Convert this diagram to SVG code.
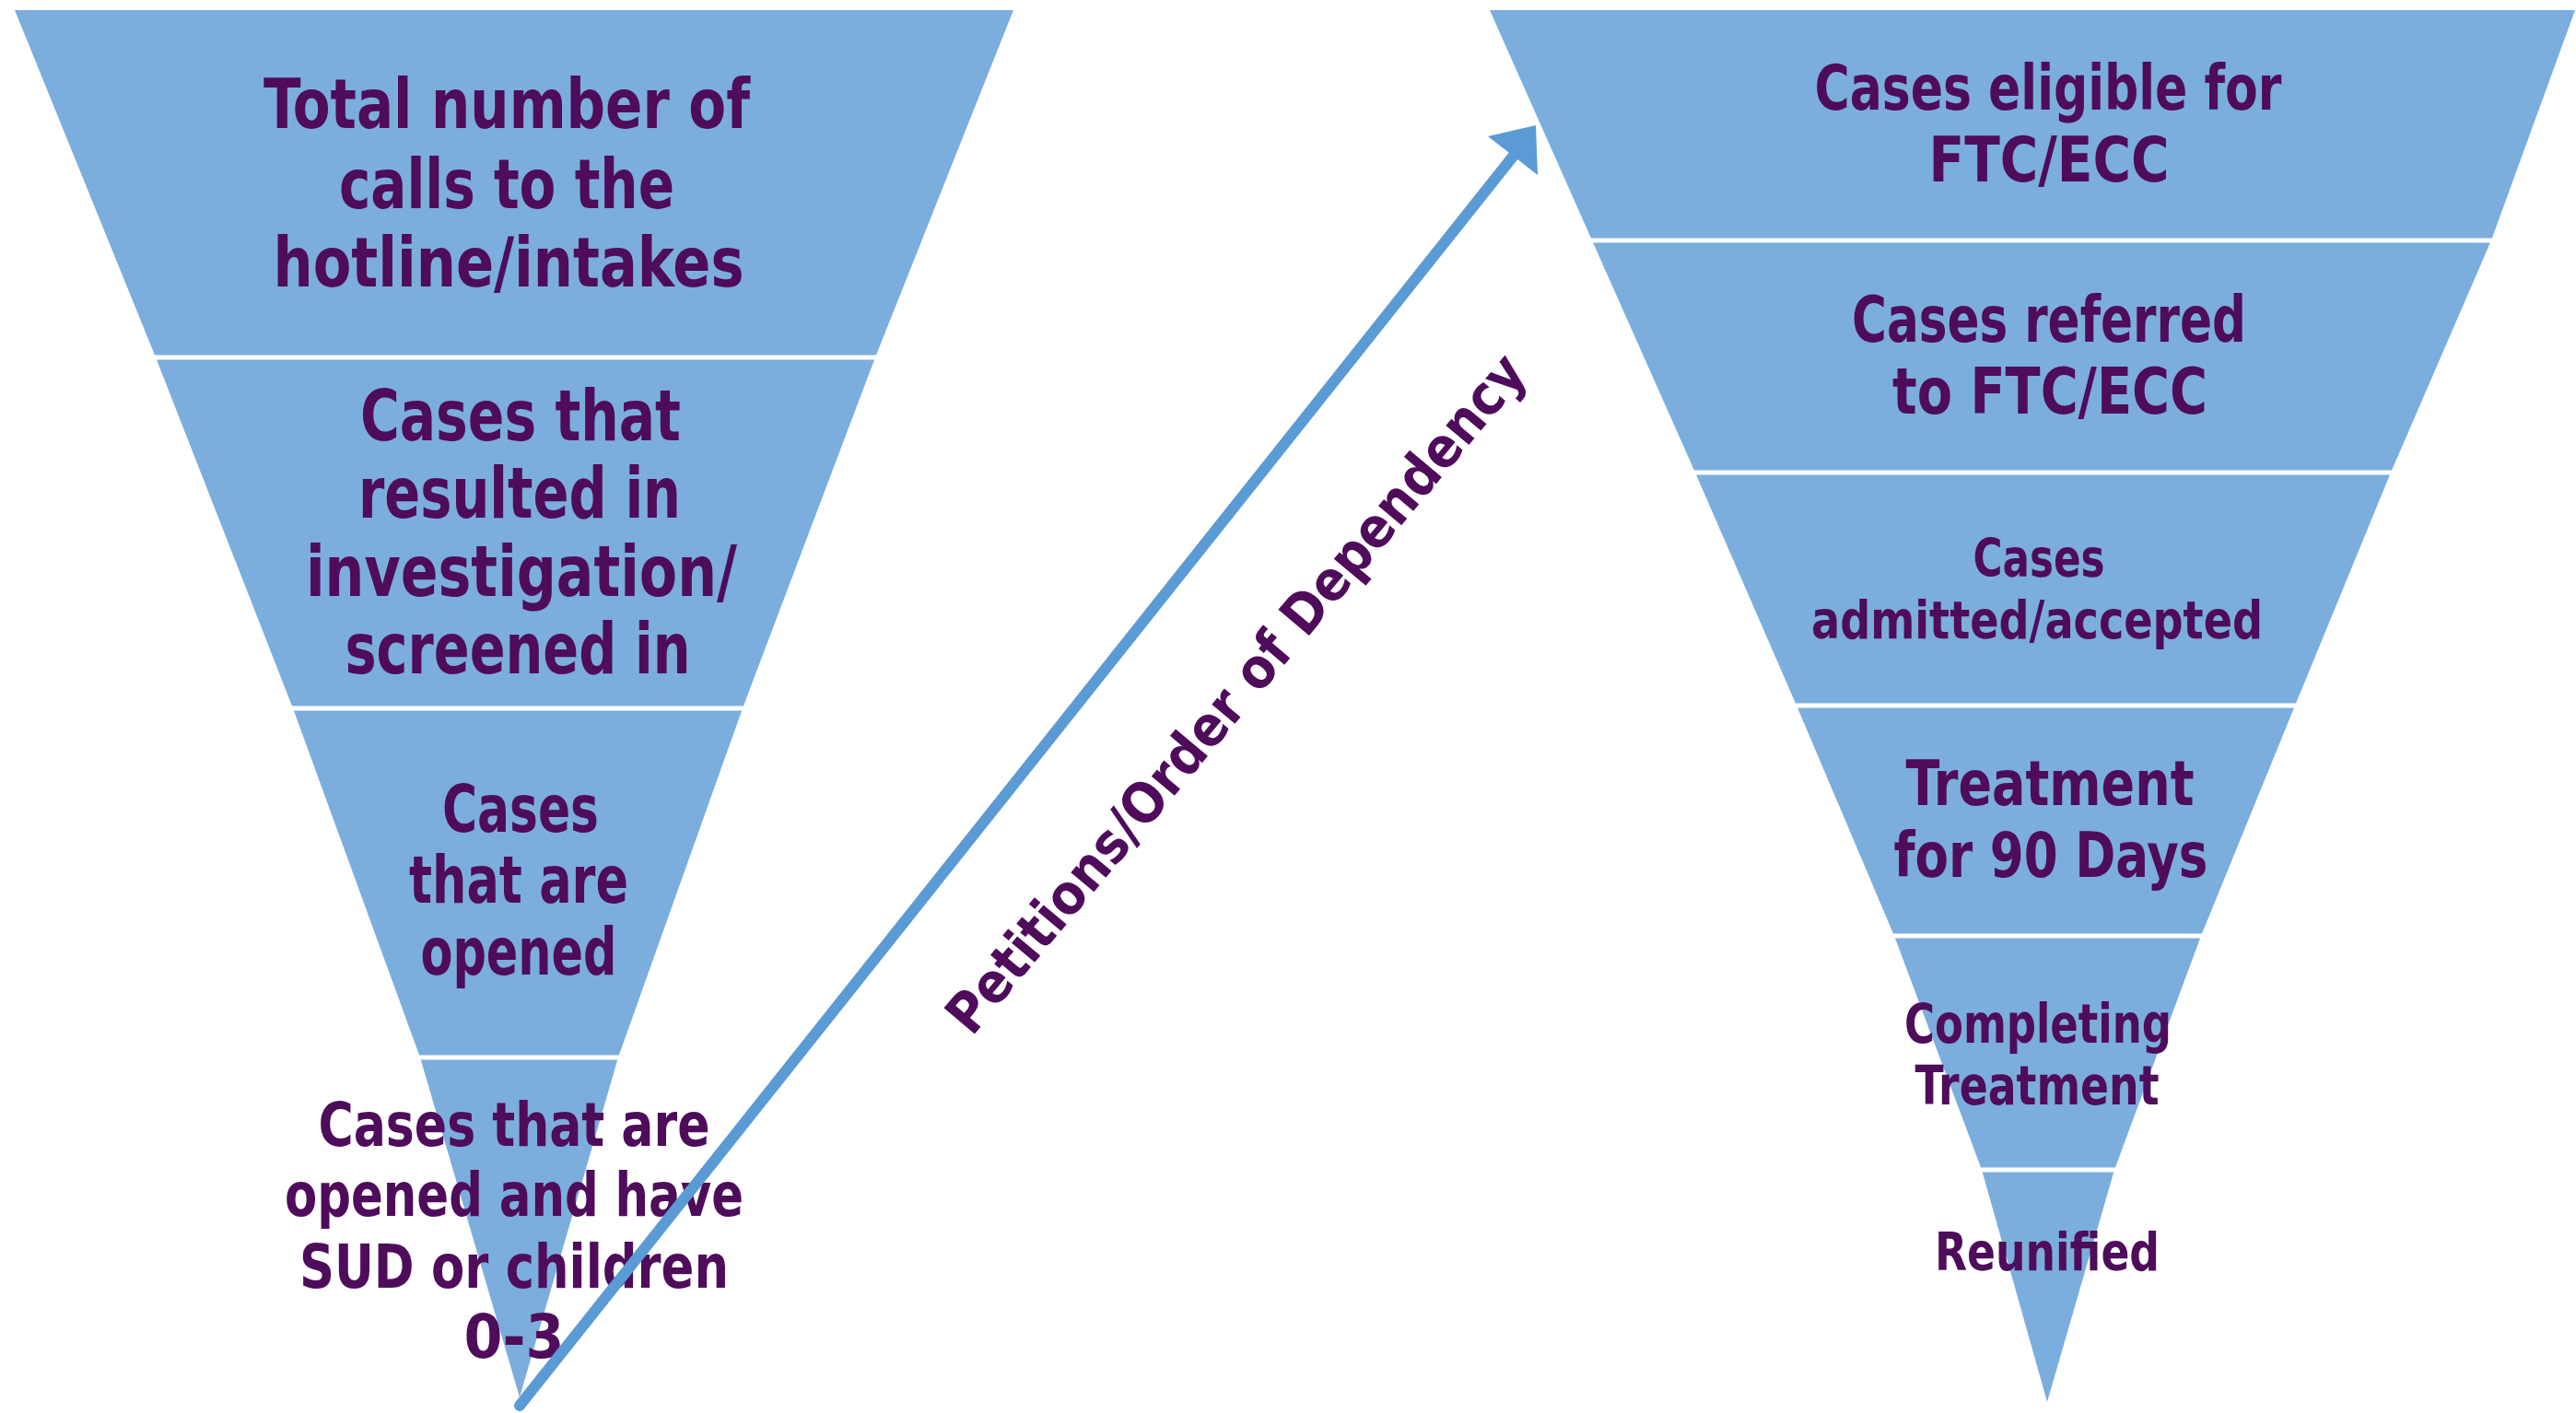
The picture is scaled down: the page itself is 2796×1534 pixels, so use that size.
<svg xmlns="http://www.w3.org/2000/svg" width="2796" height="1534" viewBox="0 0 2796 1534">
<style>
.seg{fill:#7BAEDC;}
.div{stroke:#FFFFFF;stroke-width:5;}
.t{font-family:"DejaVu Sans Condensed","DejaVu Sans",sans-serif;font-stretch:condensed;font-weight:bold;fill:#4E0C5B;text-anchor:middle;}
</style>
<rect width="2796" height="1534" fill="#FFFFFF"/>
<g id="left-funnel">
<g id="l1"><polygon class="seg" points="16,11 1100,11 950,388 169,388"/>
<text class="t" font-size="74"><tspan x="550" y="139" textLength="528" lengthAdjust="spacingAndGlyphs">Total number of</tspan><tspan x="550" y="226" textLength="364" lengthAdjust="spacingAndGlyphs">calls to the</tspan><tspan x="552" y="311" textLength="511" lengthAdjust="spacingAndGlyphs">hotline/intakes</tspan></text></g>
<g id="l2"><polygon class="seg" points="169,388 950,388 806,769 318,769"/>
<text class="t" font-size="76"><tspan x="565" y="478" textLength="348" lengthAdjust="spacingAndGlyphs">Cases that</tspan><tspan x="564" y="562" textLength="350" lengthAdjust="spacingAndGlyphs">resulted in</tspan><tspan x="566" y="647" textLength="468" lengthAdjust="spacingAndGlyphs">investigation/</tspan><tspan x="562" y="731" textLength="375" lengthAdjust="spacingAndGlyphs">screened in</tspan></text></g>
<g id="l3"><polygon class="seg" points="318,769 806,769 671,1148 456,1148"/>
<text class="t" font-size="72"><tspan x="565" y="903" textLength="170" lengthAdjust="spacingAndGlyphs">Cases</tspan><tspan x="563" y="980" textLength="238" lengthAdjust="spacingAndGlyphs">that are</tspan><tspan x="563" y="1058" textLength="213" lengthAdjust="spacingAndGlyphs">opened</tspan></text></g>
<g id="l4"><polygon class="seg" points="456,1148 671,1148 564,1517"/>
<text class="t" font-size="66"><tspan x="558" y="1244" textLength="425" lengthAdjust="spacingAndGlyphs">Cases that are</tspan><tspan x="558" y="1320" textLength="498" lengthAdjust="spacingAndGlyphs">opened and have</tspan><tspan x="558" y="1398" textLength="466" lengthAdjust="spacingAndGlyphs">SUD or children</tspan><tspan x="558" y="1474" textLength="109" lengthAdjust="spacingAndGlyphs">0-3</tspan></text></g>
<line class="div" x1="165" y1="388" x2="954" y2="388"/>
<line class="div" x1="314" y1="769" x2="810" y2="769"/>
<line class="div" x1="452" y1="1148" x2="675" y2="1148"/>
</g>
<g id="right-funnel">
<g id="r1"><polygon class="seg" points="1617,11 2795,11 2704,261 1728,261"/>
<text class="t" font-size="68"><tspan x="2223" y="119" textLength="507" lengthAdjust="spacingAndGlyphs">Cases eligible for</tspan><tspan x="2224" y="197" textLength="261" lengthAdjust="spacingAndGlyphs">FTC/ECC</tspan></text></g>
<g id="r2"><polygon class="seg" points="1728,261 2704,261 2595,513 1840,513"/>
<text class="t" font-size="70"><tspan x="2224" y="371" textLength="428" lengthAdjust="spacingAndGlyphs">Cases referred</tspan><tspan x="2225" y="449" textLength="342" lengthAdjust="spacingAndGlyphs">to FTC/ECC</tspan></text></g>
<g id="r3"><polygon class="seg" points="1840,513 2595,513 2491,766 1950,766"/>
<text class="t" font-size="57"><tspan x="2213" y="626" textLength="143" lengthAdjust="spacingAndGlyphs">Cases</tspan><tspan x="2211" y="693" textLength="490" lengthAdjust="spacingAndGlyphs">admitted/accepted</tspan></text></g>
<g id="r4"><polygon class="seg" points="1950,766 2491,766 2389,1016 2056,1016"/>
<text class="t" font-size="67"><tspan x="2225" y="874" textLength="313" lengthAdjust="spacingAndGlyphs">Treatment</tspan><tspan x="2226" y="952" textLength="341" lengthAdjust="spacingAndGlyphs">for 90 Days</tspan></text></g>
<g id="r5"><polygon class="seg" points="2056,1016 2389,1016 2295,1270 2151,1270"/>
<text class="t" font-size="59"><tspan x="2212" y="1132" textLength="290" lengthAdjust="spacingAndGlyphs">Completing</tspan><tspan x="2211" y="1199" textLength="265" lengthAdjust="spacingAndGlyphs">Treatment</tspan></text></g>
<g id="r6"><polygon class="seg" points="2151,1270 2295,1270 2222,1522"/>
<text class="t" font-size="57"><tspan x="2222" y="1379" textLength="244" lengthAdjust="spacingAndGlyphs">Reunified</tspan></text></g>
<line class="div" x1="1724" y1="261" x2="2708" y2="261"/>
<line class="div" x1="1836" y1="513" x2="2599" y2="513"/>
<line class="div" x1="1946" y1="766" x2="2495" y2="766"/>
<line class="div" x1="2052" y1="1016" x2="2393" y2="1016"/>
<line class="div" x1="2147" y1="1270" x2="2299" y2="1270"/>
</g>
<g id="connectors">
<line x1="564" y1="1526" x2="1642" y2="170" stroke="#5B9BD5" stroke-width="12" stroke-linecap="round"/>
<polygon points="1667,136 1615,148 1669,190" fill="#5B9BD5"/>
<text class="t" font-size="60" transform="translate(1357,766) rotate(-50)">Petitions/Order of Dependency</text>
</g>
</svg>
